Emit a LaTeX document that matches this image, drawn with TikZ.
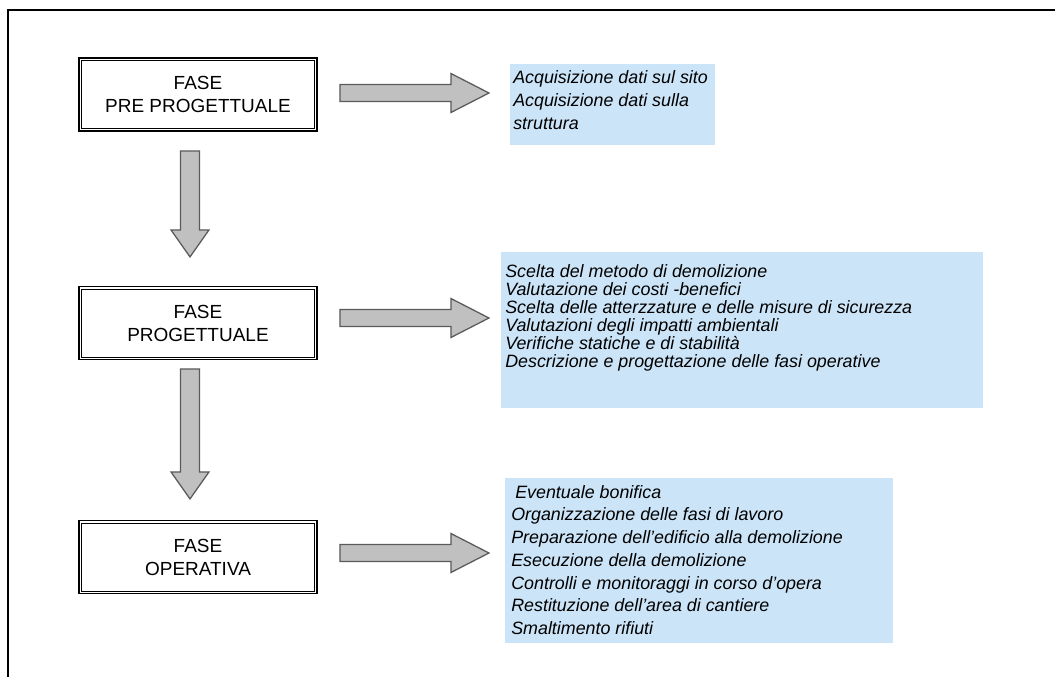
\documentclass[tikz,border=0pt]{standalone}
\usepackage{fontspec}
\setmainfont{Liberation Sans}
\usetikzlibrary{calc}

\definecolor{infoblue}{HTML}{CCE4F7}
\definecolor{arrowgray}{HTML}{C0C0C0}
\definecolor{arrowedge}{HTML}{5A5A5A}

\tikzset{
  phase/.style={draw, line width=1.3pt, minimum width=5.95cm, minimum height=1.825cm,
    align=center, font=\fontsize{13.5}{16.4}\selectfont},
  infotext/.style={anchor=north west, inner sep=0pt, align=left,
    font=\fontsize{12.7}{12.8}\selectfont\itshape},
  blockarrow/.style={fill=arrowgray, draw=arrowedge, line width=0.9pt, line join=miter},
}

% horizontal block arrow, #1 = left end of the shaft
\newcommand{\harrow}[1]{%
  \draw[blockarrow] (#1) ++(0,-8.5) -- ++(111,0) -- ++(0,-11) -- ++(38,19.5)
    -- ++(-38,19.5) -- ++(0,-11) -- ++(-111,0) -- cycle;}
% vertical block arrow, #1 = top of the shaft, #2 = shaft length
\newcommand{\varrow}[2]{%
  \draw[blockarrow] (#1) ++(-9.5,0) -- ++(0,#2) -- ++(-9.5,0) -- ++(19,27)
    -- ++(19,-27) -- ++(-9.5,0) -- ++(0,-#2) -- cycle;}

\begin{document}
\begin{tikzpicture}[x=0.025cm, y=-0.025cm]
  \useasboundingbox (0,0) rectangle (1055,677);

  % Frame
  \draw[line width=1.5pt] (8,677) -- (8,10) -- (1055,10);

  % Phases
  \node[phase] (pre)  at (198,94.5) {FASE\\PRE PROGETTUALE};
  \node[phase] (prog) at (198,323)  {FASE\\PROGETTUALE};
  \node[phase] (oper) at (198,557)  {FASE\\OPERATIVA};
  \foreach \n in {pre,prog,oper}
    \draw[line width=0.6pt] ([shift={(3.5,3.5)}]\n.north west) rectangle ([shift={(-3.5,-3.5)}]\n.south east);

  % Activities
  \fill[infoblue] (510,64) rectangle (715,145);
  \node[infotext, font=\fontsize{12.7}{16.4}\selectfont\itshape] (pretxt) at (513,70)
    {Acquisizione dati sul sito\\Acquisizione dati sulla\\struttura};

  \fill[infoblue] (501,252) rectangle (983,408);
  \node[infotext] (progtxt) at (505,264)
    {Scelta del metodo di demolizione\\
     Valutazione dei costi -benefici\\
     Scelta delle atterzzature e delle misure di sicurezza\\
     Valutazioni degli impatti ambientali\\
     Verifiche statiche e di stabilità\\
     Descrizione e progettazione delle fasi operative};

  \fill[infoblue] (505,478) rectangle (893,643);
  \node[infotext, font=\fontsize{12.7}{16.15}\selectfont\itshape] (opertxt) at (511,485)
    {\hspace*{0.1cm}Eventuale bonifica\\
     Organizzazione delle fasi di lavoro\\
     Preparazione dell'edificio alla demolizione\\
     Esecuzione della demolizione\\
     Controlli e monitoraggi in corso d'opera\\
     Restituzione dell'area di cantiere\\
     Smaltimento rifiuti};

  % Arrows
  \harrow{$(pre.east)+(22,-1.5)$}
  \harrow{$(prog.east)+(22,-5)$}
  \harrow{$(oper.east)+(22,-4)$}
  \varrow{$(pre.south)+(-8,19)$}{79}
  \varrow{$(prog.south)+(-8,8.5)$}{103}
\end{tikzpicture}
\end{document}
